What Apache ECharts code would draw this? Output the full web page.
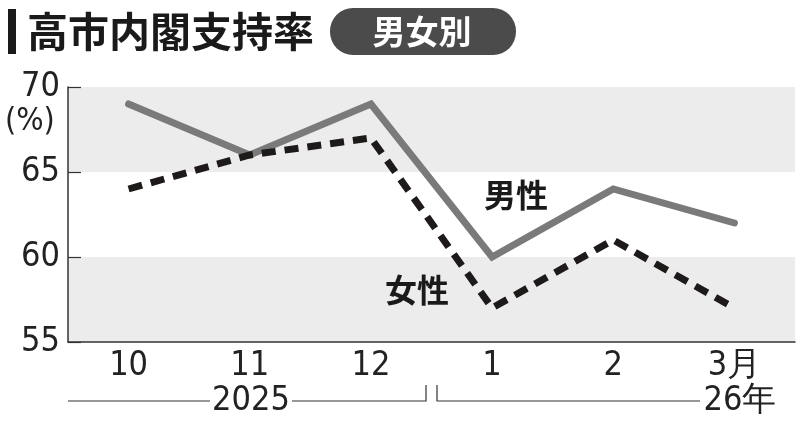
<!DOCTYPE html>
<html>
<head>
<meta charset="utf-8">
<script src="https://cdn.jsdelivr.net/npm/echarts@6/dist/echarts.min.js"></script>
<style>
  html, body { margin: 0; padding: 0; background: #fff; }
  #chart { width: 800px; height: 422px; }
</style>
</head>
<body>
<div id="chart"></div>
<script>
// 月
var months = ['10', '11', '12', '1', '2', '3月'];
// 男性・女性の支持率(%)
var maleValues = [69, 66, 69, 60, 64, 62];
var femaleValues = [64, 66, 67, 57, 61, 57];
var yTicks = [55, 60, 65, 70];

var numFont = "'Liberation Sans Narrow', 'DejaVu Sans Condensed', Roboto, sans-serif";
var jpFont = "'Noto Sans CJK JP', sans-serif";

var chart = echarts.init(document.getElementById('chart'));

var option = {
    animation: false,
    grid: { left: 68, right: 5, top: 87, bottom: 80 },
    xAxis: {
        type: 'category',
        data: months,
        boundaryGap: true,
        axisLine: { lineStyle: { color: '#333', width: 1.5 } },
        axisTick: { inside: true, alignWithLabel: true, length: 7, lineStyle: { color: '#333', width: 1.2 } },
        axisLabel: { color: '#222', fontFamily: numFont, fontSize: 34, margin: 7 }
    },
    yAxis: {
        type: 'value',
        min: yTicks[0],
        max: yTicks[yTicks.length - 1],
        interval: 5,
        axisLine: { show: true, lineStyle: { color: '#333', width: 1.5 } },
        axisTick: { show: true, inside: true, length: 13, lineStyle: { color: '#333', width: 1.2 } },
        axisLabel: { color: '#222', fontFamily: numFont, fontSize: 34, margin: 8 },
        splitLine: { show: false },
        splitArea: { show: true, areaStyle: { color: ['#ececec', '#ffffff'] } }
    },
    series: [
        {
            name: '男性',
            type: 'line',
            data: maleValues,
            symbol: 'none',
            lineStyle: { color: '#7a7a7a', width: 7, cap: 'round', join: 'miter' }
        },
        {
            name: '女性',
            type: 'line',
            data: femaleValues,
            symbol: 'none',
            lineStyle: { color: '#1e1a1a', width: 7, type: [14, 9], join: 'miter' }
        }
    ],
    graphic: [
        // タイトル
        { type: 'rect', z: 100, shape: { x: 8, y: 9, width: 8, height: 45 }, style: { fill: '#1a1a1a' } },
        { type: 'text', z: 100, x: 27, y: 31, style: { text: '高市内閣支持率', font: 'bold 41px ' + jpFont, fill: '#1a1a1a', verticalAlign: 'middle' } },
        { type: 'rect', z: 100, shape: { x: 330, y: 8, width: 186, height: 47, r: 23 }, style: { fill: '#4b4b4b' } },
        { type: 'text', z: 100, x: 422, y: 31, style: { text: '男女別', font: 'bold 33px ' + jpFont, fill: '#fff', align: 'center', verticalAlign: 'middle' } },
        { type: 'text', z: 100, x: 5, y: 122, style: { text: '(%)', font: '32px ' + numFont, fill: '#222', verticalAlign: 'middle' } },
        // 系列ラベル
        { type: 'text', z: 100, x: 516, y: 195, style: { text: '男性', font: 'bold 32px ' + jpFont, fill: '#1a1a1a', align: 'center', verticalAlign: 'middle' } },
        { type: 'text', z: 100, x: 417, y: 290, style: { text: '女性', font: 'bold 32px ' + jpFont, fill: '#1a1a1a', align: 'center', verticalAlign: 'middle' } },
        // 年の区切り
        { type: 'polyline', z: 100, shape: { points: [[68, 401], [210, 401]] }, style: { stroke: '#333', lineWidth: 1.2, fill: null } },
        { type: 'polyline', z: 100, shape: { points: [[292, 401], [426, 401], [426, 385]] }, style: { stroke: '#333', lineWidth: 1.2, fill: null } },
        { type: 'text', z: 100, x: 251, y: 401, style: { text: '2025', font: '34px ' + numFont, fill: '#222', align: 'center', verticalAlign: 'middle' } },
        { type: 'polyline', z: 100, shape: { points: [[437, 385], [437, 401], [700, 401]] }, style: { stroke: '#333', lineWidth: 1.2, fill: null } },
        { type: 'text', z: 100, x: 740, y: 401, style: { text: '26年', font: '34px ' + numFont, fill: '#222', align: 'center', verticalAlign: 'middle' } }
    ]
};

chart.setOption(option);
</script>
</body>
</html>
